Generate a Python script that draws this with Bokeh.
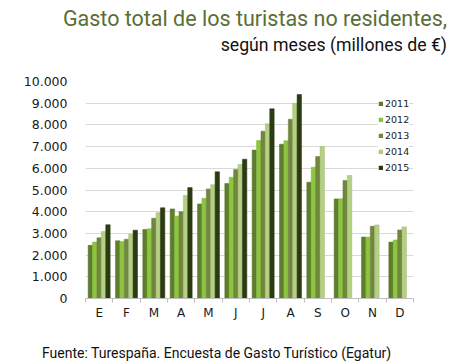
from bokeh.plotting import figure
from bokeh.models import (ColumnDataSource, Legend, LegendItem, LinearAxis, Div,
                          CategoricalAxis, Range1d, FixedTicker, CustomJSTickFormatter,
                          SingleIntervalTicker)
from bokeh.layouts import column
from bokeh.transform import dodge
from bokeh.embed import file_html
from bokeh.resources import INLINE

months = ["Enero", "Febrero", "Marzo", "Abril", "Mayo", "Junio", "Julio", "Agosto",
          "Septiembre", "Octubre", "Noviembre", "Diciembre"]
month_labels = ["E", "F", "M", "A", "M", "J", "J", "A", "S", "O", "N", "D"]
years = ["2011", "2012", "2013", "2014", "2015"]
v2011 = [2450, 2660, 3180, 4130, 4360, 5300, 6840, 7110, 5360, 4590, 2830, 2600]
v2012 = [2600, 2630, 3220, 3800, 4620, 5590, 7280, 7270, 6050, 4600, 2830, 2700]
v2013 = [2800, 2730, 3700, 4000, 5050, 5940, 7710, 8260, 6540, 5440, 3330, 3160]
v2014 = [3090, 2960, 3950, 4750, 5240, 6170, 8050, 9000, 7000, 5670, 3390, 3300]
v2015 = [3400, 3150, 4180, 5110, 5840, 6420, 8740, 9400, None, None, None, None]
series = [v2011, v2012, v2013, v2014, v2015]
colors = ["#5e7d2e", "#8cc63f", "#71873f", "#b5cf85", "#2c3c12"]
edges = ["#56732a", "#82b838", "#687d3a", "#9fbb70", "#26340f"]

title_text = "Gasto total de los turistas no residentes,"
subtitle_text = "según meses (millones de €)"
source_text = "Fuente: Turespaña. Encuesta de Gasto Turístico (Egatur)"

p = figure(x_range=months, y_range=Range1d(0, 10000), width=474, height=287,
           output_backend="svg", toolbar_location=None, x_axis_location=None,
           min_border_left=85, min_border_right=61, min_border_top=24, min_border_bottom=46)
p.outline_line_color = None
p.background_fill_color = "white"
p.border_fill_color = "white"

bw = 0.161
items = []
for i, (yr, vals) in enumerate(zip(years, series)):
    xs = [m for m, v in zip(months, vals) if v is not None]
    ys = [v for v in vals if v is not None]
    src = ColumnDataSource(dict(x=xs, y=ys))
    r = p.vbar(x=dodge("x", (i - 2) * bw, range=p.x_range), top="y", width=bw, source=src,
               fill_color=colors[i], line_color=edges[i], line_width=0.5)
    items.append(LegendItem(label=yr, renderers=[r]))

# y axis
p.yaxis.ticker = SingleIntervalTicker(interval=1000)
p.yaxis.formatter = CustomJSTickFormatter(
    code="return tick.toFixed(0).replace(/\\B(?=(\\d{3})+(?!\\d))/g, '.');")
p.yaxis.axis_line_color = None
p.yaxis.major_tick_line_color = None
p.yaxis.minor_tick_line_color = None
p.yaxis.major_label_standoff = 12
p.yaxis.major_label_text_font = "DejaVu Sans"
p.yaxis.major_label_text_font_size = "12.5px"
p.yaxis.major_label_text_color = "#1a1a1a"

p.ygrid.grid_line_color = "#d9d9d9"
p.ygrid.grid_line_width = 1
p.xgrid.grid_line_color = None

# axis line with tick marks on the month boundaries
tick_axis = LinearAxis(ticker=FixedTicker(ticks=list(range(len(months) + 1))),
                       formatter=CustomJSTickFormatter(code="return '';"),
                       axis_line_color="#bfbfbf", major_tick_line_color="#bfbfbf",
                       major_tick_out=4, major_tick_in=0, minor_tick_line_color=None,
                       major_label_standoff=0, major_label_text_font_size="1px")
p.add_layout(tick_axis, "below")

cat_axis = CategoricalAxis(axis_line_color=None, major_tick_line_color=None,
                           minor_tick_line_color=None, major_label_standoff=-3,
                           major_label_text_font="DejaVu Sans",
                           major_label_text_font_size="12px",
                           major_label_text_color="#1a1a1a",
                           formatter=CustomJSTickFormatter(
                               args=dict(names=months, labels=month_labels),
                               code="return labels[names.indexOf(tick)];"))
p.add_layout(cat_axis, "below")

legend = Legend(items=items, location=(293, 124), padding=4, margin=0, spacing=3,
                glyph_width=5, glyph_height=5, label_height=13, label_standoff=2,
                label_text_font="DejaVu Sans", label_text_font_size="9.5px",
                label_text_color="#1a1a1a", background_fill_color="white",
                background_fill_alpha=1, border_line_color=None)
p.add_layout(legend, "center")

head = Div(text=(
    '<div style="width:474px;box-sizing:border-box;padding-top:4px;line-height:30px;'
    'font-size:21.5px;color:#5a6e36;font-family:Roboto;text-align:right;padding-right:27px;'
    'white-space:nowrap;">%s</div>'
    '<div style="width:474px;box-sizing:border-box;line-height:23px;font-size:17.7px;'
    'color:#111;font-family:Roboto;text-align:right;padding-right:27px;'
    'white-space:nowrap;">%s</div>') % (title_text, subtitle_text),
    width=474, height=57, styles={"margin": "0", "padding": "0"})
foot = Div(text=(
    '<div style="line-height:19px;font-size:14px;color:#111;font-family:Roboto;'
    'padding-left:42px;white-space:nowrap;">%s</div>') % source_text,
    width=474, height=19, styles={"margin": "0", "padding": "0"})

layout = column(head, p, foot, spacing=0)
open("out.html", "w").write(file_html(layout, INLINE))
